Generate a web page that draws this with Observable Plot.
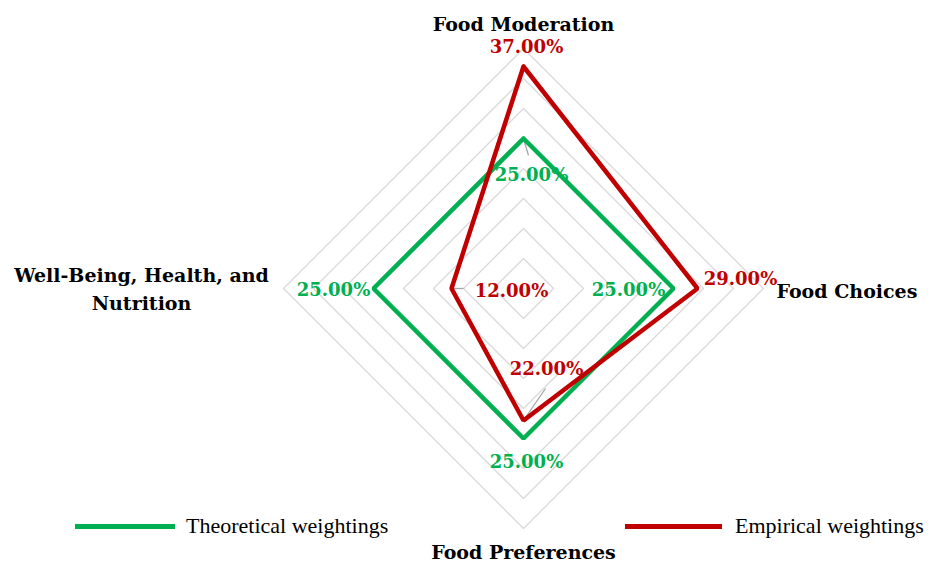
<!DOCTYPE html>
<html>
<head>
<meta charset="utf-8">
<script src="https://cdn.jsdelivr.net/npm/d3@7"></script>
<script src="https://cdn.jsdelivr.net/npm/@observablehq/plot@0.6"></script>
<style>
  html, body { margin: 0; padding: 0; background: #fff; }
  #wrap { position: relative; width: 928px; height: 563px; }
  #legend { position: absolute; left: 0; top: 0; width: 928px; height: 563px; pointer-events: none; }
  .lg-line { position: absolute; height: 5px; }
  .lg-text { position: absolute; font-family: "Liberation Serif", serif; font-size: 22px; color: #000; line-height: 22px; white-space: nowrap; }
</style>
</head>
<body>
<div id="wrap"><div id="legend"></div></div>
<script>
// ---- data ----
const axesNames = ["Food Moderation", "Food Choices", "Food Preferences", "Well-Being, Health, and\nNutrition"];
const seriesNames = ["Theoretical weightings", "Empirical weightings"];
const theoretical = [25, 25, 25, 25];
const empirical = [37, 29, 22, 12];
const gridLevels = [5, 10, 15, 20, 25, 30, 35, 40];
const colors = ["#00B050", "#C00000"];

// ---- geometry helpers ----
const W = 928, H = 563;
const cx = 523, cy = 288, pxPerUnit = 6;
const ang = i => i * Math.PI / 2;
const px = (i, r) => r * Math.sin(ang(i));
const py = (i, r) => r * Math.cos(ang(i));

// grid rings
const gridPts = [];
for (const lv of gridLevels) {
  for (let k = 0; k <= axesNames.length; k++) {
    const i = k % axesNames.length;
    gridPts.push({lv, x: px(i, lv), y: py(i, lv)});
  }
}

// series polygons
const seriesVals = [theoretical, empirical];
const linePts = [];
const pointRows = [];
seriesVals.forEach((vals, s) => {
  for (let k = 0; k <= vals.length; k++) {
    const i = k % vals.length;
    linePts.push({s: seriesNames[s], x: px(i, vals[i]), y: py(i, vals[i])});
  }
  vals.forEach((v, i) => pointRows.push({s, i, v, x: px(i, v), y: py(i, v)}));
});

// label placement (pixel offsets, styling only)
const labelOffsets = [
  [[8, 37], [-45, 2], [3, 24], [-40, 2]],   // theoretical
  [[3, -19], [43, -9], [23, -51], [60, 3]]  // empirical
];
const leaderEnds = {"0-0": [5, 17], "1-2": [22, -32], "1-3": [12, 0]};

const axisOffsets = [[0, -26, "middle"], [13, 1, "start"], [0, 22, "middle"], [-142, -1, "middle"]];

const xDom = [-cx / pxPerUnit, (W - cx) / pxPerUnit];
const yDom = [-(H - cy) / pxPerUnit, cy / pxPerUnit];

const labelMarks = pointRows.map(d => {
  const [dx, dy] = labelOffsets[d.s][d.i];
  return Plot.text([d], {
    x: "x", y: "y", dx, dy,
    text: r => r.v.toFixed(2) + "%",
    fill: colors[d.s],
    fontFamily: "DejaVu Serif", fontWeight: "bold", fontSize: 18
  });
});

const leaderRows = pointRows.filter(d => leaderEnds[d.s + "-" + d.i]).map(d => {
  const [ex, ey] = leaderEnds[d.s + "-" + d.i];
  return {x1: d.x, y1: d.y, x2: d.x + ex / pxPerUnit, y2: d.y - ey / pxPerUnit};
});

const axisRows = axesNames.map((name, i) => ({name, i, x: px(i, 40), y: py(i, 40)}));
const axisMarks = axisRows.map(d => {
  const [dx, dy, anchor] = axisOffsets[d.i];
  return Plot.text([d], {
    x: "x", y: "y", dx, dy, text: "name", textAnchor: anchor,
    fill: "#000", fontFamily: "DejaVu Serif", fontWeight: "bold", fontSize: 19, lineHeight: 1.47
  });
});

const chart = Plot.plot({
  width: W, height: H,
  margin: 0,
  x: {domain: xDom, range: [0, W], axis: null},
  y: {domain: yDom, range: [H, 0], axis: null},
  marks: [
    Plot.line(gridPts, {x: "x", y: "y", z: "lv", stroke: "#d9d9d9", strokeWidth: 1.3}),
    Plot.link(leaderRows, {x1: "x1", y1: "y1", x2: "x2", y2: "y2", stroke: "#a6a6a6", strokeWidth: 1.3}),
    Plot.line(linePts, {x: "x", y: "y", z: "s", stroke: "s", strokeWidth: 4.5, strokeLinejoin: "miter", curve: "linear"}),
    ...labelMarks,
    ...axisMarks
  ],
  color: {domain: seriesNames, range: colors}
});
document.getElementById("wrap").prepend(chart);
chart.style.position = "absolute";
chart.style.left = "0"; chart.style.top = "0";

// legend
const legendPos = [[75, 100, 186], [625, 97, 735]];
const lg = document.getElementById("legend");
seriesNames.forEach((name, s) => {
  const [lx, lw, tx] = legendPos[s];
  const ln = document.createElement("div");
  ln.className = "lg-line";
  ln.style.left = lx + "px"; ln.style.width = lw + "px"; ln.style.top = "524px";
  ln.style.background = colors[s];
  lg.appendChild(ln);
  const t = document.createElement("div");
  t.className = "lg-text";
  t.style.left = tx + "px"; t.style.top = "515px";
  t.textContent = name;
  lg.appendChild(t);
});
</script>
</body>
</html>
